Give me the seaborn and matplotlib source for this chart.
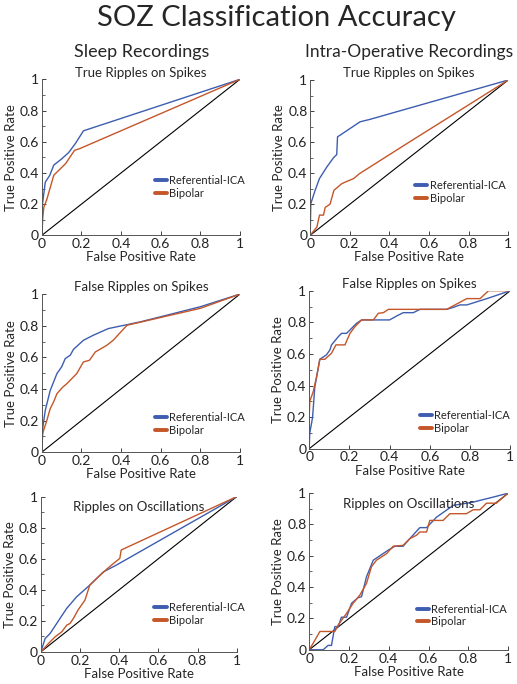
import numpy as np
import pandas as pd
import seaborn as sns
import matplotlib.pyplot as plt
from matplotlib.ticker import MultipleLocator

sns.set_style("ticks")
plt.rcParams['font.family'] = ['Lato', 'DejaVu Sans']

# ---- ROC curves (FPR, TPR) ----
# Sleep, true ripples on spikes
sleep_trs_ica_x = [0, 0.003, 0.008, 0.017, 0.04, 0.06, 0.10, 0.135, 0.17, 0.21, 1]
sleep_trs_ica_y = [0, 0.20, 0.25, 0.34, 0.385, 0.45, 0.49, 0.53, 0.59, 0.67, 1]
sleep_trs_bip_x = [0, 0.005, 0.01, 0.025, 0.06, 0.12, 0.165, 0.19, 1]
sleep_trs_bip_y = [0, 0.12, 0.18, 0.23, 0.385, 0.46, 0.545, 0.555, 1]

# Intra-op, true ripples on spikes
intra_trs_ica_x = [0, 0.003, 0.025, 0.047, 0.084, 0.118, 0.134, 0.138, 0.151, 0.252, 0.30, 1]
intra_trs_ica_y = [0, 0.204, 0.29, 0.366, 0.44, 0.50, 0.52, 0.634, 0.645, 0.731, 0.746, 1]
intra_trs_bip_x = [0, 0.034, 0.047, 0.067, 0.076, 0.10, 0.12, 0.16, 0.20, 0.22, 0.25, 0.5, 0.75, 1]
intra_trs_bip_y = [0, 0.054, 0.13, 0.13, 0.18, 0.20, 0.29, 0.333, 0.355, 0.366, 0.398, 0.60, 0.80, 1]

# Sleep, false ripples on spikes
sleep_frs_ica_x = [0, 0.005, 0.017, 0.042, 0.076, 0.10, 0.118, 0.143, 0.16, 0.21, 0.26, 0.336, 0.496, 0.8, 1]
sleep_frs_ica_y = [0, 0.16, 0.264, 0.39, 0.497, 0.54, 0.592, 0.613, 0.651, 0.708, 0.74, 0.782, 0.824, 0.92, 1]
sleep_frs_bip_x = [0, 0.003, 0.025, 0.042, 0.059, 0.076, 0.106, 0.126, 0.176, 0.21, 0.24, 0.27, 0.328,
                   0.36, 0.43, 0.8, 1]
sleep_frs_bip_y = [0, 0.116, 0.20, 0.275, 0.317, 0.37, 0.412, 0.433, 0.497, 0.571, 0.581, 0.634, 0.676,
                   0.708, 0.803, 0.91, 1]

# Intra-op, false ripples on spikes
intra_frs_ica_x = [0, 0.003, 0.012, 0.017, 0.028, 0.053, 0.086, 0.103, 0.111, 0.145, 0.161, 0.186, 0.211,
                   0.236, 0.261, 0.40, 0.435, 0.468, 0.518, 0.551, 0.684, 0.718, 0.75, 0.784, 0.834,
                   0.884, 1]
intra_frs_ica_y = [0, 0.10, 0.162, 0.20, 0.39, 0.566, 0.594, 0.625, 0.657, 0.709, 0.73, 0.73, 0.762,
                   0.794, 0.815, 0.815, 0.84, 0.861, 0.861, 0.882, 0.882, 0.895, 0.91, 0.91, 0.93,
                   0.95, 1]
intra_frs_bip_x = [0, 0, 0.003, 0.02, 0.037, 0.053, 0.078, 0.111, 0.133, 0.178, 0.203, 0.228, 0.261,
                   0.319, 0.344, 0.369, 0.394, 0.684, 0.71, 0.784, 0.85, 0.892, 1]
intra_frs_bip_y = [0, 0.20, 0.30, 0.36, 0.457, 0.566, 0.566, 0.604, 0.657, 0.657, 0.73, 0.773, 0.815,
                   0.815, 0.857, 0.861, 0.882, 0.882, 0.90, 0.95, 0.95, 1.0, 1]

# Sleep, ripples on oscillations
sleep_ro_ica_x = [0, 0.022, 0.047, 0.081, 0.132, 0.183, 0.25, 0.32, 0.386, 1]
sleep_ro_ica_y = [0, 0.086, 0.118, 0.183, 0.28, 0.355, 0.43, 0.516, 0.559, 1]
sleep_ro_bip_x = [0, 0.039, 0.073, 0.107, 0.132, 0.149, 0.166, 0.19, 0.225, 0.25, 0.285, 0.35, 0.403, 0.41, 1]
sleep_ro_bip_y = [0, 0.054, 0.097, 0.129, 0.172, 0.183, 0.215, 0.27, 0.333, 0.43, 0.473, 0.548, 0.602, 0.656, 1]

# Intra-op, ripples on oscillations
intra_ro_ica_x = [0, 0.07, 0.095, 0.112, 0.129, 0.146, 0.162, 0.188, 0.213, 0.246, 0.263, 0.288, 0.322,
                  0.397, 0.43, 0.472, 0.506, 0.556, 0.59, 0.64, 0.724, 0.824, 0.925, 1]
intra_ro_ica_y = [0, 0, 0.028, 0.028, 0.148, 0.148, 0.208, 0.208, 0.297, 0.333, 0.339, 0.466, 0.572,
                  0.636, 0.661, 0.661, 0.71, 0.78, 0.78, 0.847, 0.922, 0.943, 0.975, 1]
intra_ro_bip_x = [0, 0.02, 0.054, 0.129, 0.146, 0.188, 0.221, 0.255, 0.288, 0.313, 0.338, 0.389, 0.422,
                  0.472, 0.506, 0.539, 0.556, 0.59, 0.606, 0.673, 0.707, 0.79, 0.824, 0.858, 0.891,
                  0.94, 1]
intra_ro_bip_y = [0, 0.042, 0.117, 0.117, 0.159, 0.233, 0.297, 0.35, 0.424, 0.53, 0.572, 0.614, 0.661,
                  0.667, 0.71, 0.731, 0.752, 0.752, 0.826, 0.826, 0.869, 0.869, 0.894, 0.894, 0.936,
                  0.936, 1]

titles = ["True Ripples on Spikes", "True Ripples on Spikes",
          "False Ripples on Spikes", "False Ripples on Spikes",
          "Ripples on Oscillations", "Ripples on Oscillations"]
curves = [
    (sleep_trs_ica_x, sleep_trs_ica_y, sleep_trs_bip_x, sleep_trs_bip_y),
    (intra_trs_ica_x, intra_trs_ica_y, intra_trs_bip_x, intra_trs_bip_y),
    (sleep_frs_ica_x, sleep_frs_ica_y, sleep_frs_bip_x, sleep_frs_bip_y),
    (intra_frs_ica_x, intra_frs_ica_y, intra_frs_bip_x, intra_frs_bip_y),
    (sleep_ro_ica_x, sleep_ro_ica_y, sleep_ro_bip_x, sleep_ro_bip_y),
    (intra_ro_ica_x, intra_ro_ica_y, intra_ro_bip_x, intra_ro_bip_y),
]

# axes boxes [left, bottom, width, height] in figure fraction
boxes = [
    [0.081, 0.656, 0.383, 0.228], [0.600, 0.656, 0.383, 0.227],
    [0.081, 0.339, 0.383, 0.231], [0.598, 0.344, 0.389, 0.231],
    [0.079, 0.047, 0.379, 0.227], [0.598, 0.050, 0.385, 0.229],
]
legend_pos = [(0.57, 0.31), (0.53, 0.28), (0.57, 0.18), (0.55, 0.17), (0.58, 0.245), (0.54, 0.22)]

blue = "#3d5db0"
orange = "#c4562a"

fig = plt.figure(figsize=(5.17, 6.84), dpi=100)
for i, (box, (ix, iy, bx, by)) in enumerate(zip(boxes, curves)):
    ax = fig.add_axes(box)
    ax.plot([0, 1], [0, 1], color="black", lw=0.8)
    d1 = pd.DataFrame({"x": ix, "y": iy})
    d2 = pd.DataFrame({"x": bx, "y": by})
    sns.lineplot(data=d1, x="x", y="y", sort=False, estimator=None, color=blue, lw=1.0,
                 label="Referential-ICA", ax=ax)
    sns.lineplot(data=d2, x="x", y="y", sort=False, estimator=None, color=orange, lw=1.0,
                 label="Bipolar", ax=ax)
    ax.set_xlim(0, 1)
    ax.set_ylim(0, 1)
    ax.set_xticks([0, 0.2, 0.4, 0.6, 0.8, 1])
    ax.set_yticks([0, 0.2, 0.4, 0.6, 0.8, 1])
    ax.set_xticklabels(["0", "0.2", "0.4", "0.6", "0.8", "1"])
    ax.set_yticklabels(["0", "0.2", "0.4", "0.6", "0.8", "1"])
    ax.yaxis.set_minor_locator(MultipleLocator(0.1))
    ax.tick_params(direction="in", length=3, width=0.6, labelsize=10, pad=2, colors="#222222")
    ax.tick_params(which="minor", direction="in", length=2, width=0.5)
    for s in ["top", "right"]:
        ax.spines[s].set_visible(False)
    for s in ["left", "bottom"]:
        ax.spines[s].set_linewidth(0.7)
        ax.spines[s].set_color("#555555")
    ax.set_xlabel("False Positive Rate", fontsize=9.5, labelpad=1)
    ax.set_ylabel("True Positive Rate", fontsize=9.5, labelpad=2)
    if i < 4:
        ax.set_title(titles[i], fontsize=9.5, pad=2)
    else:
        ax.text(0.5, 0.93, titles[i], transform=ax.transAxes, ha="center", va="center", fontsize=9.5)
    ax.legend(loc="center left", bbox_to_anchor=legend_pos[i], frameon=False, fontsize=8,
              handlelength=1.1, handletextpad=0.2, labelspacing=0.15, borderaxespad=0, borderpad=0)
    for h in ax.get_legend().get_lines():
        h.set_linewidth(2.8)

fig.text(0.534, 0.974, "SOZ Classification Accuracy", ha="center", va="center", fontsize=21)
fig.text(0.275, 0.924, "Sleep Recordings", ha="center", va="center", fontsize=13)
fig.text(0.791, 0.924, "Intra-Operative Recordings", ha="center", va="center", fontsize=12.5)

fig.savefig("out.png", dpi=100)
